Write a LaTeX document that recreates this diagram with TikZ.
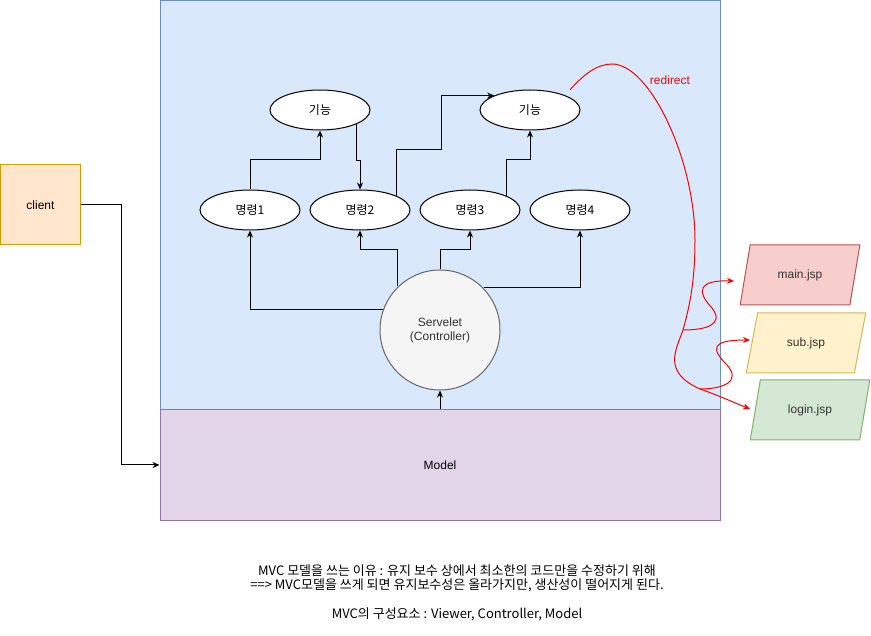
\documentclass[tikz,border=0pt]{standalone}
\usepackage{fontspec}
\setmainfont{Liberation Sans}
\newfontfamily\kr{Noto Sans CJK KR}
\usetikzlibrary{arrows.meta,shapes.geometric}
\definecolor{viewfill}{HTML}{DAE8FC}
\definecolor{viewline}{HTML}{6C8EBF}
\definecolor{modelfill}{HTML}{E1D5E7}
\definecolor{modelline}{HTML}{9673A6}
\definecolor{clientfill}{HTML}{FFE6CC}
\definecolor{clientline}{HTML}{D79B00}
\definecolor{ctrlfill}{HTML}{F5F5F5}
\definecolor{ctrlline}{HTML}{666666}
\definecolor{ctrltext}{HTML}{333333}
\definecolor{mainfill}{HTML}{F8CECC}
\definecolor{mainline}{HTML}{B85450}
\definecolor{subfill}{HTML}{FFF2CC}
\definecolor{subline}{HTML}{D6B656}
\definecolor{loginfill}{HTML}{D5E8D4}
\definecolor{loginline}{HTML}{82B366}

\begin{document}
\begin{tikzpicture}[
    x=1pt, y=-1pt,
    font=\fontsize{12}{14}\selectfont,
    box/.style={draw, rectangle, inner sep=0pt, line width=1pt},
    elp/.style={draw, ellipse, fill=white, minimum width=100pt, minimum height=40pt, inner sep=0pt, line width=1pt, font=\kr\fontsize{12}{14}\selectfont},
    jsp/.style={draw, trapezium, trapezium left angle=68.2, trapezium right angle=111.8, trapezium stretches=true, minimum width=120pt, minimum height=60pt, inner sep=0pt, line width=1pt, text=ctrltext},
    arr/.style={-{Stealth[length=7pt,width=6pt]}, line width=1pt},
    redarr/.style={-{Stealth[length=7pt,width=6pt]}, red, line width=1pt}
]
\useasboundingbox (0,0) rectangle (871,636);

\node[box, fill=viewfill, draw=viewline, minimum width=560pt, minimum height=409pt] (view) at (440,205.5) {};
\node[box, fill=modelfill, draw=modelline, minimum width=560pt, minimum height=110pt] (model) at (440,465) {Model};
\node[box, fill=clientfill, draw=clientline, minimum width=80pt, minimum height=80pt] (client) at (40.5,205) {client};

\node[elp] (f1) at (320,110) {기능};
\node[elp] (f2) at (530,110) {기능};
\node[elp] (c1) at (250,210) {명령1};
\node[elp] (c2) at (360,210) {명령2};
\node[elp] (c3) at (470,210) {명령3};
\node[elp] (c4) at (580,210) {명령4};
\node[circle, draw=ctrlline, fill=ctrlfill, text=ctrltext, minimum size=120pt, inner sep=0pt, line width=1pt, align=center] (sv) at (440,330) {Servelet\\(Controller)};

\node[jsp, fill=mainfill, draw=mainline] (main) at (800,275) {main.jsp};
\node[jsp, fill=subfill, draw=subline] (sub) at (806,343) {sub.jsp};
\node[jsp, fill=loginfill, draw=loginline] (login) at (810,410) {login.jsp};

\node[text=red] (redir) at (670,80) {redirect};

\draw[arr] (client.east) -- ++(40,0) |- (model.west);
\draw[arr] (sv.south |- model.north) -- (sv.south);
\draw[arr] (sv.160.5) -| (c1.south);
\draw[arr] (sv.134.5) -- ++(0,-37) -| (c2.south);
\draw[arr] (sv.north) -- ++(0,-20) -| (c3.south);
\draw[arr] (sv.44.4) -| (c4.south);
\draw[arr] (c1.north) -- ++(0,-30) -| (f1.south);
\draw[arr] (f1.-21.1) -- ++(0,36) -| (c2.north);
\draw[arr] (c2.21.1) -- ++(0,-46) -- ++(45,0) |- (f2.158.6);
\draw[arr] (c3.21.1) -- ++(0,-36) -| (f2.south);

\coordinate (rA) at (612,64);
\coordinate (rB) at (695,240);
\coordinate (rC) at (683,330);
\coordinate (rD) at (700,389);
\coordinate (toMain) at (734,281);
\coordinate (toSub) at (750,340);
\coordinate (toLogin) at (750,409);

\draw[redarr] ([xshift=6pt,yshift=5pt]f2.24) .. controls (583,75) and (597,64) .. (rA)
    .. controls (650,64) and (695,160) .. (rB)
    .. controls (695,280) and (690,305) .. (rC)
    .. controls (676,350) and (662,372) .. (rD)
    .. controls (720,396) and (735,403) .. (toLogin);
\draw[redarr] (rC) .. controls (705,330) and (725,325) .. (712,308)
    .. controls (695,290) and (700,280) .. (toMain);
\draw[redarr] (rD) .. controls (722,389) and (742,382) .. (727,365)
    .. controls (710,348) and (712,340) .. (toSub);

\node[align=center, font=\kr\fontsize{13}{14.5}\selectfont] (note) at (457,593) {MVC 모델을 쓰는 이유 : 유지 보수 상에서 최소한의 코드만을 수정하기 위해\\==> MVC모델을 쓰게 되면 유지보수성은 올라가지만, 생산성이 떨어지게 된다.\\[14.5pt]MVC의 구성요소 : Viewer, Controller, Model};
\end{tikzpicture}
\end{document}
